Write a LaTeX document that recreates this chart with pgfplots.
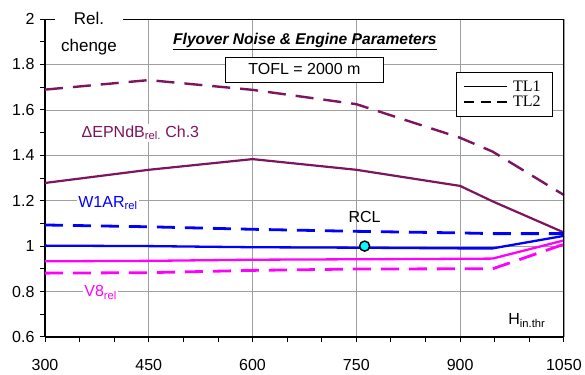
\documentclass[border=0pt]{standalone}
\usepackage{pgfplots}
\pgfplotsset{compat=1.18}
\usepackage{fontspec}
\setmainfont{Liberation Sans}
\newfontfamily\serif{Liberation Serif}
\definecolor{plum}{RGB}{125,20,95}
\definecolor{myblue}{RGB}{0,0,255}
\definecolor{mymag}{RGB}{255,0,255}
\definecolor{mycyan}{RGB}{0,255,255}
\begin{document}
\begin{tikzpicture}
\begin{axis}[
  scale only axis, width=519pt, height=318pt,
  xmin=300, xmax=1050, ymin=0.6, ymax=2,
  clip=false,
  xtick={300,450,600,750,900,1050},
  ytick={0.6,0.8,1,1.2,1.4,1.6,1.8,2},
  minor x tick num=2, minor y tick num=1,
  tick align=outside,
  axis x line*=bottom, axis y line*=left,
  axis line style={line width=1.6pt, -},
  major tick length=5pt, minor tick length=5pt,
  tick style={black, line width=0.9pt},
  xmajorgrids, ymajorgrids,
  grid style={gray!75, line width=0.6pt},
  ticklabel style={font=\fontsize{16}{18}\selectfont},
  xticklabel style={yshift=-14pt},
  yticklabel style={xshift=-2pt},
  /pgf/number format/assume math mode=true,
  /pgf/number format/1000 sep={},
  yticklabel style={/pgf/number format/fixed, /pgf/number format/precision=1},
  legend style={at={(0.979,0.833)}, anchor=north east, draw=black, line width=0.8pt,
    font=\serif\fontsize{16}{18}\selectfont, inner xsep=7pt, inner ysep=7pt,
    row sep=1.5pt, column sep=0pt, nodes={inner xsep=5pt, inner ysep=1pt}},
  legend cell align=left,
  legend image code/.code={\draw[#1] (0pt,0pt) -- (43pt,0pt);},
]
% legend images
\addlegendimage{black, line width=1.5pt}
\addlegendentry{TL1}
\addlegendimage{black, line width=1.5pt, dash pattern=on 10pt off 6.5pt}
\addlegendentry{TL2}

% dEPNdB
\addplot[forget plot, plum, line width=2.2pt] coordinates {
(300,1.278) (450,1.336) (600,1.383) (750,1.336) (900,1.265) (947,1.197) (1050,1.06)};
\addplot[forget plot, plum, line width=2.4pt, dash pattern=on 18pt off 10pt] coordinates {
(300,1.689) (450,1.731) (600,1.688) (750,1.625) (900,1.477) (947,1.416) (1050,1.225)};
% W1AR
\addplot[forget plot, myblue, line width=2.8pt, dash pattern=on 18pt off 10pt] coordinates {
(300,1.093) (450,1.085) (600,1.074) (750,1.065) (900,1.058) (947,1.055) (1050,1.055)};
\addplot[forget plot, myblue, line width=2.3pt] coordinates {
(300,1.002) (450,1.0) (600,0.995) (750,0.993) (900,0.99) (947,0.99) (1050,1.045)};
% V8
\addplot[forget plot, mymag, line width=2.8pt, dash pattern=on 18pt off 10pt] coordinates {
(300,0.881) (450,0.883) (600,0.893) (750,0.899) (900,0.9) (947,0.9) (1050,1.008)};
\addplot[forget plot, mymag, line width=2.3pt] coordinates {
(300,0.933) (450,0.935) (600,0.94) (750,0.942) (900,0.944) (947,0.945) (1050,1.025)};
% RCL
\addplot[forget plot, only marks, mark=*, mark size=5pt, mark options={fill=mycyan, draw=black, line width=1.5pt}] coordinates {(762,1.0)};

% top/right frame
\draw[line width=0.8pt] (rel axis cs:0,1) -- (rel axis cs:1,1) -- (rel axis cs:1,0);

\node[fill=white, anchor=base, minimum width=68pt, inner ysep=2pt, font=\fontsize{17}{20}\selectfont] at (axis cs:363.6,1.9736) {Rel.};
\node[anchor=base, inner sep=1pt, font=\fontsize{17}{20}\selectfont] at (axis cs:363.6,1.856) {chenge};
\node[anchor=base, inner sep=0pt, font=\bfseries\itshape\fontsize{15.6}{17}\selectfont] at (axis cs:675.7,1.8856) {\underline{Flyover Noise \& Engine Parameters}};
\node[draw, line width=0.8pt, fill=white, minimum width=158pt, minimum height=25pt, inner sep=0pt, font=\fontsize{16}{18}\selectfont] at (axis cs:675,1.7777) {TOFL = 2000 m};
\node[text=plum, fill=white, anchor=base west, inner sep=1.5pt, font=\fontsize{16}{18}\selectfont] at (axis cs:350.6,1.479) {ΔEPNdB\textsubscript{rel.} Ch.3};
\node[text=myblue, fill=white, anchor=base west, inner sep=1.5pt, font=\fontsize{16}{18}\selectfont] at (axis cs:345.8,1.171) {W1AR\textsubscript{rel}};
\node[text=mymag, fill=white, anchor=base west, inner sep=1.5pt, font=\fontsize{16}{18}\selectfont] at (axis cs:354.5,0.7777) {V8\textsubscript{rel}};
\node[anchor=base, inner sep=1pt, font=\fontsize{16}{18}\selectfont] at (axis cs:762,1.105) {RCL};
\node[anchor=base west, inner sep=0pt, font=\fontsize{16}{18}\selectfont] at (axis cs:969.5,0.6528) {H\textsubscript{in.thr}};
\end{axis}
\path (-45pt,-35pt) rectangle (540pt,337pt);
\end{tikzpicture}
\end{document}
